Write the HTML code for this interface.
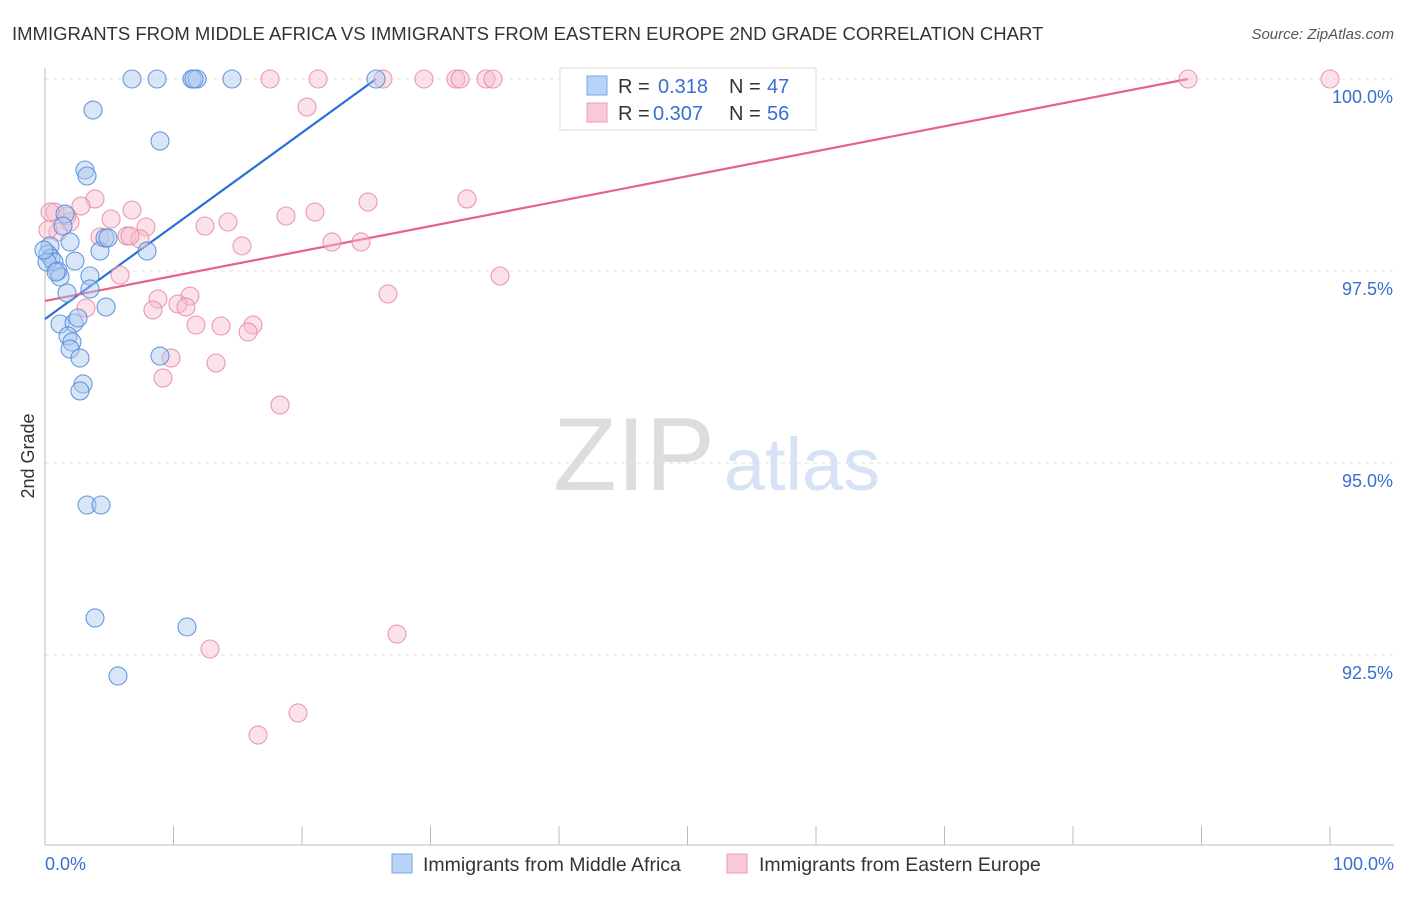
<!DOCTYPE html>
<html><head><meta charset="utf-8"><style>
body{margin:0;background:#fff;font-family:"Liberation Sans",sans-serif}
svg text{font-family:"Liberation Sans",sans-serif}
</style></head><body>
<svg width="1406" height="892" xmlns="http://www.w3.org/2000/svg">
<text x="12" y="40" font-size="18.5" fill="#333">IMMIGRANTS FROM MIDDLE AFRICA VS IMMIGRANTS FROM EASTERN EUROPE 2ND GRADE CORRELATION CHART</text>
<text x="1394" y="39" font-size="15" fill="#555" font-style="italic" text-anchor="end">Source: ZipAtlas.com</text>
<text x="634" y="490" font-size="104" fill="#ddd" font-family="Liberation Serif" text-anchor="middle">ZIP</text>
<text x="802" y="490" font-size="74" fill="#d5e3f5" text-anchor="middle">atlas</text>
<g id="grid"></g><g id="axes"></g><g id="lines"></g><g id="pts"></g>
<text x="34" y="456" font-size="18" fill="#333" text-anchor="middle" transform="rotate(-90 34 456)">2nd Grade</text>
<text x="45" y="870" font-size="18" fill="#3a6fd0">0.0%</text>
<text x="1394" y="870" font-size="18" fill="#3a6fd0" text-anchor="end">100.0%</text>
<g>
<rect x="560" y="68" width="256" height="62" fill="#fff" stroke="#ddd"/>
<rect x="587" y="76" width="20" height="19" fill="#b8d3f5" stroke="#7aa6e6"/>
<rect x="587" y="103" width="20" height="19" fill="#f9c9d7" stroke="#ee9cb4"/>
<text x="618" y="93" font-size="20" fill="#333">R =</text>
<text x="658" y="93" font-size="20" fill="#3a6fd0">0.318</text>
<text x="729" y="93" font-size="20" fill="#333">N =</text>
<text x="767" y="93" font-size="20" fill="#3a6fd0">47</text>
<text x="618" y="120" font-size="20" fill="#333">R =</text>
<text x="653" y="120" font-size="20" fill="#3a6fd0">0.307</text>
<text x="729" y="120" font-size="20" fill="#333">N =</text>
<text x="767" y="120" font-size="20" fill="#3a6fd0">56</text>
</g>
<g>
<rect x="392" y="854" width="20" height="19" fill="#b8d3f5" stroke="#7aa6e6"/>
<text x="423" y="871" font-size="19.5" fill="#333">Immigrants from Middle Africa</text>
<rect x="727" y="854" width="20" height="19" fill="#f9c9d7" stroke="#ee9cb4"/>
<text x="759" y="871" font-size="19.5" fill="#333">Immigrants from Eastern Europe</text>
</g>
</svg>
<script>
const yTicks=[100,97.5,95,92.5];
const yTickLabels=["100.0%","97.5%","95.0%","92.5%"];
const bluePx=[[132,79],[157,79],[192,79],[197,79],[194,79],[232,79],[376,79],[93,110],[160,141],[85,170],[87,176],[65,214],[63,226],[50,246],[70,242],[48,254],[51,258],[54,262],[47,262],[75,261],[100,251],[147,251],[105,238],[108,238],[58,271],[60,277],[90,276],[90,289],[67,293],[106,307],[60,324],[74,323],[78,318],[68,336],[72,342],[70,349],[80,358],[160,356],[83,384],[80,391],[87,505],[101,505],[95,618],[187,627],[118,676],[56,272],[44,250]];
const pinkPx=[[270,79],[318,79],[383,79],[424,79],[456,79],[460,79],[486,79],[493,79],[1188,79],[1330,79],[307,107],[55,212],[95,199],[81,206],[67,216],[70,222],[111,219],[132,210],[146,227],[205,226],[228,222],[286,216],[315,212],[368,202],[467,199],[58,232],[100,237],[127,236],[140,239],[242,246],[332,242],[361,242],[120,275],[500,276],[388,294],[158,299],[190,296],[178,304],[186,307],[153,310],[86,308],[196,325],[221,326],[253,325],[248,332],[171,358],[163,378],[216,363],[280,405],[397,634],[210,649],[298,713],[258,735],[50,212],[48,230],[130,236]];
const blueX=bluePx.map(p=>+((p[0]-45)/12.85).toFixed(2));
const blueY=bluePx.map(p=>+(100-(p[1]-79)/76.8).toFixed(3));
const pinkX=pinkPx.map(p=>+((p[0]-45)/12.85).toFixed(2));
const pinkY=pinkPx.map(p=>+(100-(p[1]-79)/76.8).toFixed(3));
const blueLine=[[0,96.875],[25.76,100]];
const pinkLine=[[0,97.11],[88.95,100]];
const sx=v=>45+v*12.85, sy=v=>79+(100-v)*76.8;
const NS="http://www.w3.org/2000/svg";
function mk(t,a,parent){const e=document.createElementNS(NS,t);for(const k in a)e.setAttribute(k,a[k]);document.getElementById(parent).appendChild(e);return e;}
yTicks.forEach((v,i)=>{
 const l=mk('line',{x1:45,x2:1394,y1:sy(v),y2:sy(v),stroke:'#e2e2e2','stroke-dasharray':'4 4'},'grid');
 
 
 const t=mk('text',{x:1393,y:sy(v)+24,'font-size':18,fill:'#3a6fd0','text-anchor':'end'},'grid');
 t.textContent=yTickLabels[i];
 
 
});
const ya=mk('line',{x1:45,x2:45,y1:68,y2:845,stroke:'#bbb'},'axes');


const xa=mk('line',{x1:45,x2:1394,y1:845,y2:845,stroke:'#bbb'},'axes');


for(let i=0;i<=10;i++){const tk=mk('line',{x1:sx(i*10),x2:sx(i*10),y1:826,y2:845,stroke:'#bbb'},'axes');
 
 }
function pts(xs,ys,fill,stroke,name){xs.forEach((x,i)=>{const c=mk('circle',{cx:sx(x),cy:sy(ys[i]),r:9,fill:fill,'fill-opacity':0.45,stroke:stroke,'stroke-width':1.1,'stroke-opacity':0.85},'pts');
 
 });}
pts(pinkX,pinkY,'#f7bccd','#e88aa6','point-eastern-europe');
pts(blueX,blueY,'#aac8f0','#4f8ad9','point-middle-africa');
const bl=mk('line',{x1:sx(blueLine[0][0]),y1:sy(blueLine[0][1]),x2:sx(blueLine[1][0]),y2:sy(blueLine[1][1]),stroke:'#2a6fd6','stroke-width':2.2},'lines');


const pl=mk('line',{x1:sx(pinkLine[0][0]),y1:sy(pinkLine[0][1]),x2:sx(pinkLine[1][0]),y2:sy(pinkLine[1][1]),stroke:'#e5628b','stroke-width':2.2},'lines');


</script>
</body></html>
